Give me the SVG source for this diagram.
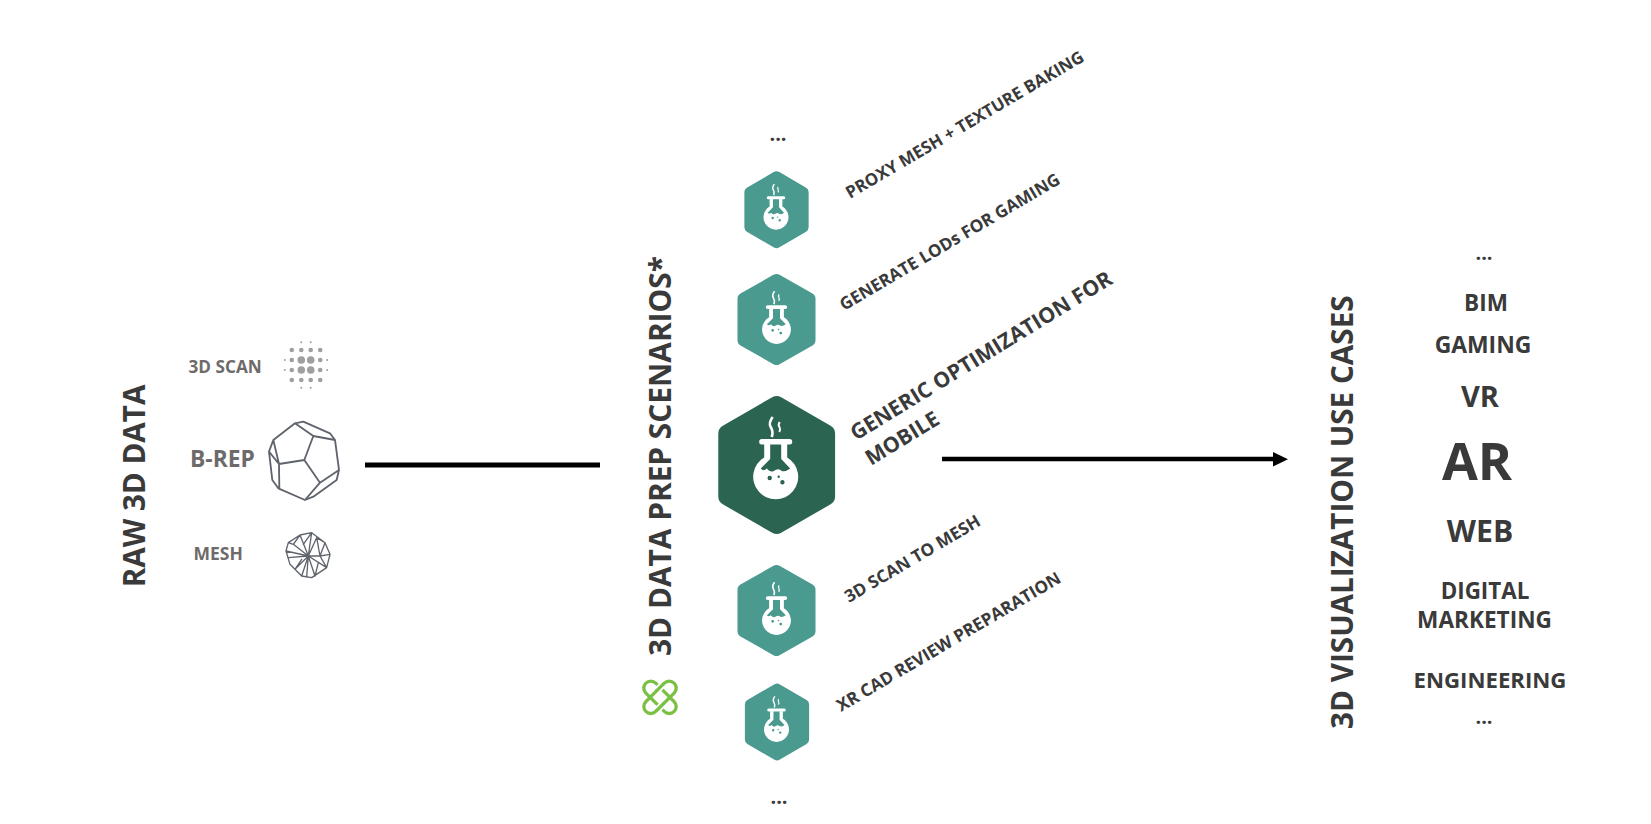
<svg xmlns="http://www.w3.org/2000/svg" xmlns:xlink="http://www.w3.org/1999/xlink" width="1651" height="824" viewBox="0 0 1651 824">
<style>
text{font-family:"Open Sans","Noto Sans","Liberation Sans",sans-serif;font-weight:700;fill:#3a3a3a}
.c{text-anchor:middle}
.g{fill:#6e6a6a}
.line{fill:none;stroke:#5f646c;stroke-linejoin:round;stroke-linecap:round}
.conn{stroke:#000;fill:none}
.cap{fill:none;stroke:#7ac143;stroke-width:3.3}
</style>
<defs>
<polygon id="hex" points="0,-60 49.4,-31.500 49.4,31.500 0,60 -49.4,31.500 -49.4,-31.500" stroke-width="18" stroke-linejoin="round"/>
<g id="flask" fill="#fff">
<rect x="-16.5" y="-26" width="33" height="5.5" rx="2.5"/>
<path fill-rule="evenodd" d="M-11.5,-21V-7.6A22.5,22.5 0 1 0 11.5,-7.6V-21ZM-5.5,-21V-6L-15,3.5Q-12,7 -9,3.5Q-5,8 -2,6Q3,2.5 6,6Q10,7 14.5,3.5L5.5,-6V-21ZM-8.2,13a2.2,2.2 0 1 0 4.4,0a2.2,2.2 0 1 0 -4.4,0ZM1.8,11.7a1.2,1.2 0 1 0 2.4,0a1.2,1.2 0 1 0 -2.4,0ZM4.5,17.3a2.2,2.2 0 1 0 4.4,0a2.2,2.2 0 1 0 -4.4,0Z"/>
<path d="M-3,-48Q-7.5,-42 -5,-38Q-2,-33 -4,-28" fill="none" stroke="#fff" stroke-width="2.600"/>
<path d="M4,-43Q2,-40 4,-37.5Q5,-35 3.5,-33" fill="none" stroke="#fff" stroke-width="2"/>
</g>
</defs>
<rect width="1651" height="824" fill="#fff"/>
<g id="connectors">
<line class="conn" x1="365" y1="465" x2="600" y2="465" stroke-width="5"/>
<line class="conn" x1="942" y1="459" x2="1274" y2="459" stroke-width="4.5"/>
<polygon points="1273,452 1288,459.3 1273,466.5" fill="#000"/>
</g>
<g id="raw-title"><text class="c" transform="translate(145,486) rotate(-90)" font-size="29.600">RAW 3D DATA</text></g>
<g id="scan">
<text class="g" x="188.500" y="373" font-size="17.200">3D SCAN</text>
<g fill="#a09e9e" transform="translate(306,365)">
<circle cx="-4.7" cy="-22.7" r="1"/><circle cx="4.7" cy="-22.7" r="1"/><circle cx="-4.7" cy="22.7" r="1"/><circle cx="4.7" cy="22.7" r="1"/>
<circle cx="-14.2" cy="-15" r="2.3"/><circle cx="-4.7" cy="-15" r="2.3"/><circle cx="4.7" cy="-15" r="2.3"/><circle cx="14.2" cy="-15" r="2.3"/>
<circle cx="-14.2" cy="15" r="2.3"/><circle cx="-4.7" cy="15" r="2.3"/><circle cx="4.7" cy="15" r="2.3"/><circle cx="14.2" cy="15" r="2.3"/>
<circle cx="-21.2" cy="-5" r="1"/><circle cx="-14.2" cy="-5" r="2.3"/><circle cx="-4.7" cy="-5" r="3.8"/><circle cx="4.7" cy="-5" r="3.8"/><circle cx="14.2" cy="-5" r="2.3"/><circle cx="21.2" cy="-5" r="1"/>
<circle cx="-21.2" cy="5" r="1"/><circle cx="-14.2" cy="5" r="2.3"/><circle cx="-4.7" cy="5" r="3.8"/><circle cx="4.7" cy="5" r="3.8"/><circle cx="14.2" cy="5" r="2.3"/><circle cx="21.2" cy="5" r="1"/>
</g>
</g>
<g id="brep">
<text class="g" x="190" y="467" font-size="22.800">B-REP</text>
<g transform="translate(160,310) scale(.3333)">
<path class="line" stroke-width="5.5" d="M405,340L430,335L510,370L525,390L537,480L530,510L460,560L435,570L355,535L337,510L327,425L340,390ZM405,340L460,378L525,390M460,378L433,450L357,462L340,390M357,462L358,535M327,425L357,462M433,450L480,518L537,480M480,518L435,570"/>
</g>
</g>
<g id="mesh">
<text class="g" x="193.500" y="560" font-size="17.500">MESH</text>
<g transform="translate(275,521) scale(.3333)">
<path class="line" stroke-width="4" d="M75,42L110,35L150,65L165,100L155,140L110,170L80,165L45,130L33,90L40,65ZM100,105L75,42M100,105L110,35M100,105L125,50M100,105L135,105M100,105L155,140M100,105L120,165M100,105L95,168M100,105L80,165M100,105L60,145M100,105L40,110M100,105L33,90M100,105L55,70M75,42L40,65M75,42L55,70L40,65M110,35L85,70M125,50L135,105M150,65L135,105L155,140M125,50L150,65M165,100L135,105M60,145L80,115M120,165L130,125"/>
</g>
</g>
<g id="prep-title"><text transform="translate(671,656) rotate(-90)" font-size="29.850">3D DATA PREP SCENARIOS*</text></g>
<g id="logo" transform="translate(660,697.300)">
<rect class="cap" x="-20" y="-7" width="40" height="14" rx="7" transform="rotate(-45)"/>
<rect class="cap" x="-20" y="-7" width="40" height="14" rx="7" transform="rotate(45)"/>
<g transform="rotate(-45)" fill="none">
<path d="M3,-7H11M-11,7H-3" stroke="#fff" stroke-width="7"/>
<path d="M2,-7H12M-12,7H-2" stroke="#7ac143" stroke-width="3.300"/>
</g>
</g>
<g id="dots-top"><text class="c" x="778" y="141" font-size="20">...</text></g>
<g id="dots-bottom"><text class="c" x="779" y="804" font-size="20">...</text></g>
<g id="hex-proxy" transform="translate(776.500,209.700)"><use xlink:href="#hex" href="#hex" fill="#4a9a90" stroke="#4a9a90" transform="scale(.55,.558)"/><use href="#flask" xlink:href="#flask" transform="translate(-.5,1) scale(.555)"/></g>
<g id="hex-lod" transform="translate(776.500,319.500)"><use href="#hex" xlink:href="#hex" fill="#4a9a90" stroke="#4a9a90" transform="scale(.668,.66)"/><use href="#flask" xlink:href="#flask" transform="translate(0,2.500) scale(.64)"/></g>
<g id="hex-mobile" transform="translate(776.700,465)"><use href="#hex" xlink:href="#hex" fill="#2b6450" stroke="#2b6450"/><use href="#flask" xlink:href="#flask" transform="translate(-1,0)"/></g>
<g id="hex-scan" transform="translate(776.500,610.500)"><use href="#hex" xlink:href="#hex" fill="#4a9a90" stroke="#4a9a90" transform="scale(.668,.66)"/><use href="#flask" xlink:href="#flask" transform="translate(0,2.500) scale(.64)"/></g>
<g id="hex-xr" transform="translate(777,722)"><use href="#hex" xlink:href="#hex" fill="#4a9a90" stroke="#4a9a90" transform="scale(.55,.558)"/><use href="#flask" xlink:href="#flask" transform="translate(-.5,1) scale(.555)"/></g>
<g id="labels">
<text transform="translate(850,199) rotate(-30.500)" font-size="17">PROXY MESH + TEXTURE BAKING</text>
<text transform="translate(844,311) rotate(-30.500)" font-size="17.100">GENERATE LODs FOR GAMING</text>
<text transform="translate(856,441) rotate(-31.500)" font-size="21.300">GENERIC OPTIMIZATION FOR</text>
<text transform="translate(871,466) rotate(-31.500)" font-size="21.300">MOBILE</text>
<text transform="translate(849,603) rotate(-30.500)" font-size="17.200">3D SCAN TO MESH</text>
<text transform="translate(841,712) rotate(-30.500)" font-size="17.200">XR CAD REVIEW PREPARATION</text>
</g>
<g id="vis-title"><text transform="translate(1353,729) rotate(-90)" font-size="29.700">3D VISUALIZATION USE CASES</text></g>
<g id="use-cases">
<text class="c" x="1484" y="260" font-size="20">...</text>
<text class="c" x="1486" y="311" font-size="22.500">BIM</text>
<text class="c" x="1483" y="353" font-size="22.900">GAMING</text>
<text class="c" x="1480" y="407" font-size="29">VR</text>
<text class="c" x="1477" y="480" font-size="52">AR</text>
<text class="c" x="1480" y="542" font-size="30.200">WEB</text>
<text class="c" x="1485" y="599" font-size="22.400">DIGITAL</text>
<text class="c" x="1484.500" y="628" font-size="22.600">MARKETING</text>
<text class="c" x="1490" y="688" font-size="22.200">ENGINEERING</text>
<text class="c" x="1484" y="724" font-size="20">...</text>
</g>
</svg>
